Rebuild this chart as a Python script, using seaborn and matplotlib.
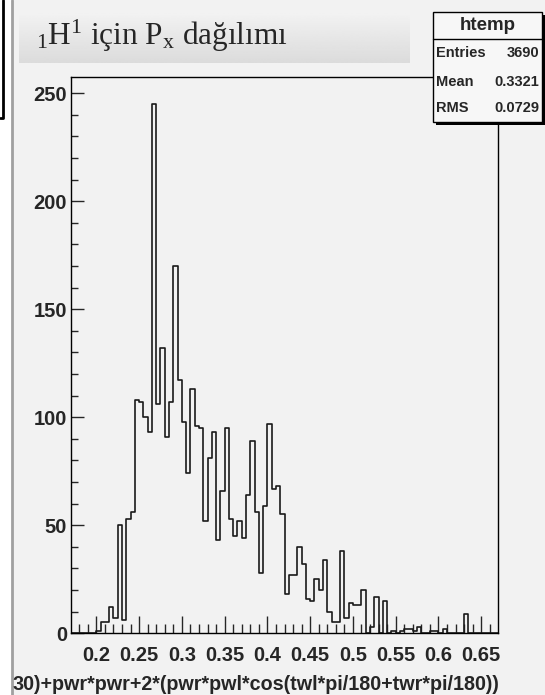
import numpy as np
import pandas as pd
import matplotlib
matplotlib.use("Agg")
import matplotlib.pyplot as plt
from matplotlib.patches import Rectangle
from matplotlib.lines import Line2D
import seaborn as sns

# ROOT "htemp" histogram: 100 bins between 0.17 and 0.67
x_min, x_max, n_bins = 0.17, 0.67, 100
counts = [0, 0, 0, 0, 0, 0, 1, 5, 5, 12,
          7, 50, 6, 53, 56, 108, 107, 100, 93, 245,
          106, 132, 91, 107, 170, 117, 98, 74, 113, 96,
          95, 52, 81, 93, 43, 66, 95, 53, 45, 52,
          44, 64, 89, 56, 28, 59, 97, 67, 68, 55,
          18, 27, 27, 40, 32, 16, 15, 25, 20, 34,
          10, 5, 5, 38, 7, 14, 13, 13, 20, 0,
          3, 17, 0, 15, 0, 1, 0, 1, 2, 2,
          1, 3, 0, 0, 1, 1, 0, 2, 0, 0,
          0, 0, 9, 0, 0, 0, 0, 0, 0, 0]

x_ticks = [0.2, 0.25, 0.3, 0.35, 0.4, 0.45, 0.5, 0.55, 0.6, 0.65]
x_tick_labels = ["0.2", "0.25", "0.3", "0.35", "0.4", "0.45", "0.5", "0.55", "0.6", "0.65"]
y_ticks = [0, 50, 100, 150, 200, 250]
y_tick_labels = ["0", "50", "100", "150", "200", "250"]

title_text = r"$_{1}\mathrm{H}^{1}$ için P$_{\mathrm{x}}$ dağılımı"
x_title = "30)+pwr*pwr+2*(pwr*pwl*cos(twl*pi/180+twr*pi/180))"
stats_name = "htemp"
stat_labels = ["Entries", "Mean", "RMS"]
stat_values = ["3690", "0.3321", "0.0729"]

sns.set_style("ticks")
plt.rcParams['font.family'] = ['Liberation Sans', 'DejaVu Sans']
plt.rcParams['mathtext.fontset'] = 'custom'
plt.rcParams['mathtext.rm'] = 'Liberation Serif'
plt.rcParams['mathtext.it'] = 'Liberation Serif:italic'

W, H = 545, 695
fig = plt.figure(figsize=(W / 100, H / 100), dpi=100)
fig.patch.set_facecolor('white')


def fx(px):
    return px / W


def fy(py):
    return 1 - py / H


# pad background and the neighbouring pad edge on the left
fig.add_artist(Rectangle((fx(13), 0), 1 - fx(13), 1, transform=fig.transFigure,
                         facecolor='#f2f2f2', edgecolor='none', zorder=0))
fig.add_artist(Line2D([fx(12), fx(12)], [0, 1], transform=fig.transFigure,
                      color='#a0a0a0', lw=2))
fig.add_artist(Line2D([fx(3), fx(3), fx(0)], [1, fy(118), fy(118)],
                      transform=fig.transFigure, color='black', lw=2))

# frame
left, right, top, bottom = 70.7, 498.3, 77.4, 633.3
ax = fig.add_axes([fx(left), fy(bottom), (right - left) / W, (bottom - top) / H])
ax.set_facecolor('#f2f2f2')

df = pd.DataFrame({'px': (np.arange(n_bins) + 0.5) * (x_max - x_min) / n_bins + x_min,
                   'n': counts})
sns.histplot(data=df, x='px', weights='n', bins=n_bins, binrange=(x_min, x_max),
             element='step', fill=False, color='#1a1a1a', linewidth=1.2, ax=ax)

ax.set_xlim(x_min, x_max)
ax.set_ylim(0, 1.05 * max(counts))
ax.set_xlabel('')
ax.set_ylabel('')
for s in ax.spines.values():
    s.set_color('black')
    s.set_linewidth(1.0)

ax.set_xticks(x_ticks)
ax.set_xticklabels(x_tick_labels)
ax.set_xticks([round(v, 2) for v in np.arange(0.18, 0.665, 0.01)], minor=True)
ax.set_yticks(y_ticks)
ax.set_yticklabels(y_tick_labels)
ax.set_yticks([v for v in range(10, 251, 10) if v % 50], minor=True)

ax.tick_params(axis='x', which='major', direction='in', length=12, width=1, pad=9,
               labelsize=14.5)
ax.tick_params(axis='x', which='minor', direction='in', length=6.5, width=1)
ax.tick_params(axis='y', which='major', direction='in', length=9.5, width=1, pad=2.5,
               labelsize=14.5)
ax.tick_params(axis='y', which='minor', direction='in', length=5, width=1)
for lab in ax.get_xticklabels() + ax.get_yticklabels():
    lab.set_fontweight('bold')

# axis title (clipped on the left in the original canvas)
fig.text(fx(499), fy(684), x_title, ha='right', va='center', fontsize=14.2,
         fontweight='bold')

# title box with a soft vertical gradient
tax = fig.add_axes([fx(19), fy(63), (410 - 19) / W, (63 - 12) / H])
grad = np.linspace(0.95, 0.86, 64).reshape(-1, 1)
tax.imshow(grad, cmap='gray', vmin=0, vmax=1, aspect='auto', extent=(0, 1, 0, 1))
tax.set_axis_off()
fig.text(fx(36), fy(45), title_text, ha='left', va='baseline', fontsize=22.5,
         family=['Liberation Serif', 'DejaVu Serif'])

# stats box
bx0, bx1, by0, by1 = 433, 542, 12, 122
fig.add_artist(Rectangle((fx(bx0 + 3), fy(by1 + 3)), (bx1 - bx0) / W, (by1 - by0) / H,
                         transform=fig.transFigure, facecolor='black', edgecolor='none', zorder=5))
fig.add_artist(Rectangle((fx(bx0), fy(by1)), (bx1 - bx0) / W, (by1 - by0) / H,
                         transform=fig.transFigure, facecolor='#f7f7f7', edgecolor='black',
                         lw=1, zorder=6))
fig.add_artist(Line2D([fx(bx0), fx(bx1)], [fy(39), fy(39)], transform=fig.transFigure,
                      color='black', lw=1, zorder=7))
fig.text(fx((bx0 + bx1) / 2), fy(25), stats_name, ha='center', va='center',
         fontsize=13.5, fontweight='bold', zorder=8)
row_y = [53, 81.5, 108.5]
for lab, val, yy in zip(stat_labels, stat_values, row_y):
    fig.text(fx(bx0 + 3), fy(yy), lab, ha='left', va='center', fontsize=10.5,
             fontweight='bold', zorder=8)
    fig.text(fx(bx1 - 3), fy(yy), val, ha='right', va='center', fontsize=10.5,
             fontweight='bold', zorder=8)

fig.savefig('out.png', dpi=100)
